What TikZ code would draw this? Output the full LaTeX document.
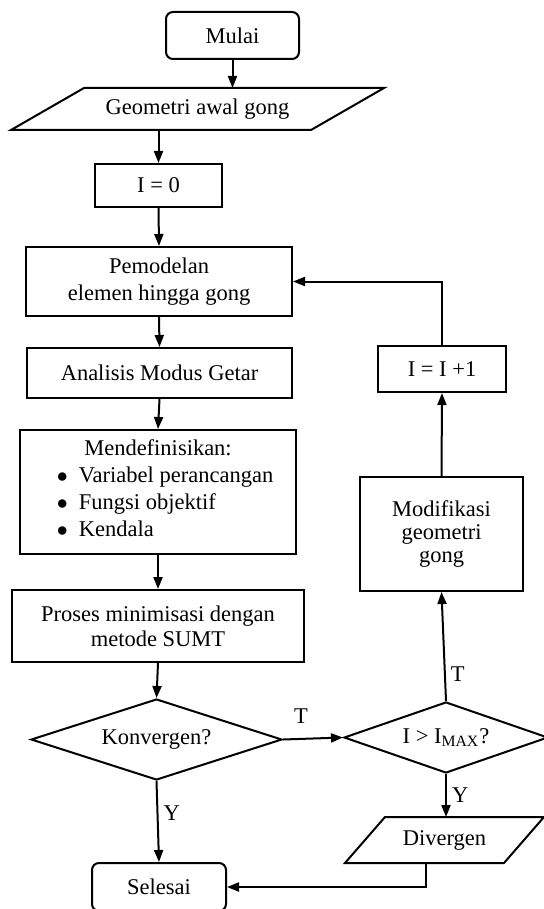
\documentclass[tikz,border=0pt]{standalone}
\usepackage{fontspec}
\setmainfont{Liberation Serif}
\usetikzlibrary{arrows.meta,shapes.geometric}
\def\jajar(#1,#2)(#3:#4:#5){\draw[garis] ({#1-#3/2+#5},{#2-#4/2}) -- ({#1+#3/2},{#2-#4/2}) -- ({#1+#3/2-#5},{#2+#4/2}) -- ({#1-#3/2},{#2+#4/2}) -- cycle;}

\begin{document}
\begin{tikzpicture}[x=0.5pt, y=-0.5pt,
	font=\fontsize{11.25}{13}\selectfont,
	garis/.style={line width=1pt},
	kotak/.style={draw, garis, align=center, inner sep=0pt},
	terminal/.style={kotak, rounded corners=3.5pt},
	putusan/.style={kotak, diamond, aspect=3},
	panah/.style={garis, -{Triangle[length=6pt, width=4.5pt]}},
	ket/.style={inner sep=2.5pt}]
			%%%%% START %%%%%
			
			\useasboundingbox (0, 0) rectangle (544, 909);
			
			% kolom kiri
			\node[terminal, minimum width=66.5pt, minimum height=23.5pt] (mulai) at (232.5, 35.5) {Mulai};
			\jajar(197.5,109)(373:42:73)
			\node (geo) at (197.5, 109) {Geometri awal gong};
			\coordinate (geoatas) at (232.5, 88);
			\coordinate (geobawah) at (158.5, 130);
			\node[kotak, minimum width=63.5pt, minimum height=21.5pt] (inol) at (158.5, 185.5) {I = 0};
			\node[kotak, minimum width=133pt, minimum height=34.5pt, font=\fontsize{11.25}{13.5}\selectfont] (model) at (159, 281.5) {Pemodelan\\elemen hingga gong};
			\node[kotak, minimum width=132.5pt, minimum height=25pt] (analisis) at (159.5, 373) {Analisis Modus Getar};
			\node[kotak, minimum width=138pt, minimum height=62pt, font=\fontsize{11.25}{13.4}\selectfont] (definisi) at (158, 492) {Mendefinisikan:\\
				\hspace*{7pt}\begin{tabular}[t]{@{}l@{}}
					$\bullet$\hspace{0.5em}Variabel perancangan\\
					$\bullet$\hspace{0.5em}Fungsi objektif\\
					$\bullet$\hspace{0.5em}Kendala
				\end{tabular}};
			\node[kotak, minimum width=146pt, minimum height=36pt, font=\fontsize{11.25}{12.5}\selectfont] (proses) at (158, 626) {Proses minimisasi dengan\\metode SUMT};
			\node[putusan, minimum width=125.5pt, minimum height=40.5pt] (konv) at (156.5, 739.5) {Konvergen?};
			\node[terminal, minimum width=67pt, minimum height=24pt] (selesai) at (159, 887) {Selesai};
			
			% kolom kanan
			\node[kotak, minimum width=64pt, minimum height=23pt] (iplus) at (442, 369) {I = I +1};
			\node[kotak, minimum width=81.5pt, minimum height=57pt, font=\fontsize{11.25}{11.75}\selectfont] (modif) at (441.5, 534) {Modifikasi\\geometri\\gong};
			\node[putusan, minimum width=102pt, minimum height=35.5pt] (imax) at (446, 737.5) {I > I\textsubscript{MAX}?};
			\jajar(444.5,840)(199:46:40)
			\node (div) at (444.5, 840) {Divergen};
			\coordinate (divatas) at (446, 817);
			\coordinate (divbawah) at (426, 863);
			
			% panah
			\draw[panah] (mulai.south) -- (geoatas);
			\draw[panah] (geobawah) -- (inol.north);
			\draw[panah] (inol.south) -- (model.north);
			\draw[panah] (model.south) -- (analisis.north);
			\draw[panah] (analisis.south) -- (definisi.north);
			\draw[panah] (definisi.south) -- (proses.north);
			\draw[panah] (proses.south) -- (konv.north);
			\draw[panah] (konv.south) -- node[ket, right, pos=0.4] {Y} (selesai.north);
			\draw[panah] (konv.east) -- node[ket, above=4.5pt, pos=0.3] {T} (imax.west);
			\draw[panah] (imax.north) -- node[ket, right, pos=0.25] {T} (modif.south);
			\draw[panah] (modif.north) -- (iplus.south);
			\draw[panah] (iplus.north) |- (model.east);
			\draw[panah] (imax.south) -- node[ket, right] {Y} (divatas);
			\draw[panah] (divbawah) |- (selesai.east);
			
			%%%%% END %%%%%
\end{tikzpicture}
\end{document}
